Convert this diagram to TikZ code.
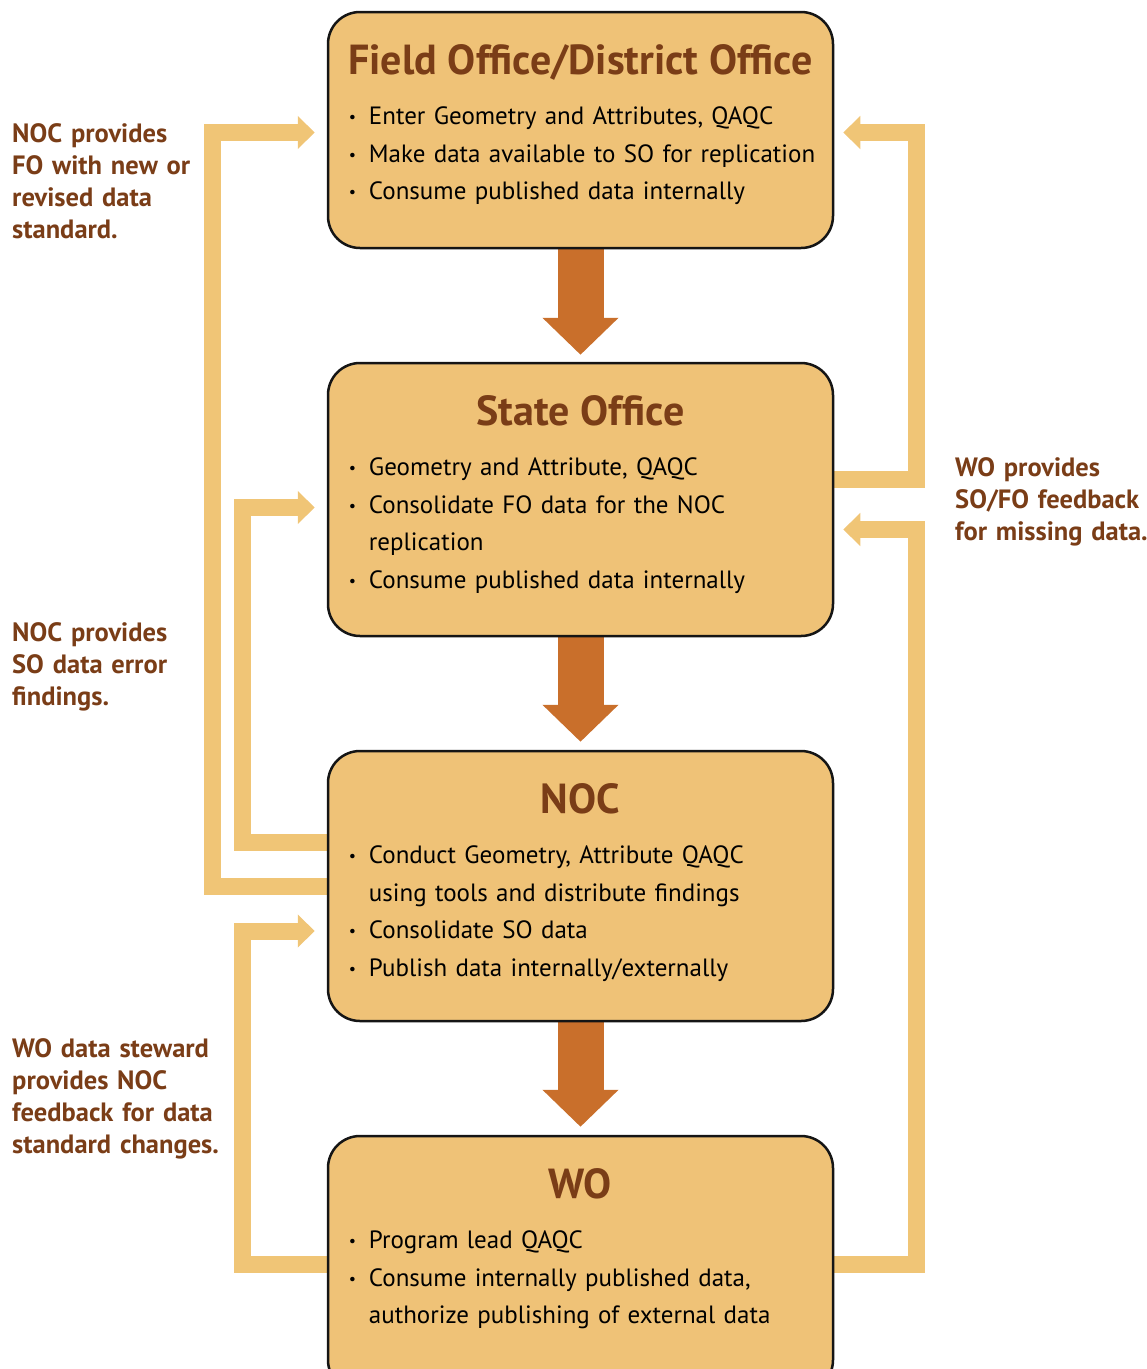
\documentclass[tikz,border=0pt]{standalone}
\usepackage{fontspec}
\setmainfont{PT Sans}
\usetikzlibrary{arrows.meta,positioning,calc,backgrounds}
\definecolor{colFill} {HTML}{EFC277}
\definecolor{colLine} {HTML}{151515}
\definecolor{colTitle}{HTML}{7A3D17}
\definecolor{colDown} {HTML}{C96F2B}
\definecolor{colBack} {HTML}{F0C576}
\tikzset{
  office/.style={
    draw=colLine, fill=colFill, line width=2.5pt,
    rounded corners=32pt, minimum width=505pt, inner sep=0pt
  },
  officetitle/.style={anchor=base, inner sep=0pt, text=colTitle,
    font=\bfseries\fontsize{42}{42}\selectfont},
  duties/.style={anchor=north west, inner sep=0pt, text width=520pt,
    align=left, font=\fontsize{25}{37.5}\selectfont},
  note/.style={anchor=north west, inner sep=0pt, text width=260pt,
    align=left, text=colTitle, font=\bfseries\fontsize{26.5}{32}\selectfont},
  downarr/.style={
    -{Triangle[width=74pt,length=37pt]},
    line width=46pt, draw=colDown
  },
  backarr/.style={
    -{Triangle[width=32pt,length=17pt]},
    line width=17pt, draw=colBack, line join=miter
  }
}
\newcommand{\duty}[1]{%
  \noindent\makebox[20pt][l]{\raisebox{2pt}{\fontsize{16}{16}\selectfont\textbullet}}\strut#1\par
}
\newcommand{\dutymore}[1]{%
  \noindent\hspace*{20pt}\strut#1\par
}

\begin{document}
\begin{tikzpicture}[x=1pt,y=-1pt]
    \useasboundingbox (0,0) rectangle (1147,1369);

    % the four offices
    \node[office, minimum height=236pt] (fo)  at (580.5,130)   {};
    \node[office, minimum height=273pt] (so)  at (580.5,499.5) {};
    \node[office, minimum height=270pt] (noc) at (580.5,886)   {};
    \node[office, minimum height=256pt] (wo)  at (580.5,1264)  {};

    \node[officetitle] (fotitle)  at ([yshift=-64pt]fo.north)  {Field Office/District Office};
    \node[officetitle] (sotitle)  at ([yshift=-64pt]so.north)  {State Office};
    \node[officetitle] (noctitle) at ([yshift=-64pt]noc.north) {NOC};
    \node[officetitle] (wotitle)  at ([yshift=-64pt]wo.north)  {WO};

    \node[duties] (folist) at ([xshift=22pt,yshift=-87.5pt]fo.north west) {%
      \duty{Enter Geometry and Attributes, QAQC}%
      \duty{Make data available to SO for replication}%
      \duty{Consume published data internally}};
    \node[duties] (solist) at ([xshift=22pt,yshift=-87.5pt]so.north west) {%
      \duty{Geometry and Attribute, QAQC}%
      \duty{Consolidate FO data for the NOC}%
      \dutymore{replication}%
      \duty{Consume published data internally}};
    \node[duties] (noclist) at ([xshift=22pt,yshift=-87.5pt]noc.north west) {%
      \duty{Conduct Geometry, Attribute QAQC}%
      \dutymore{using tools and distribute findings}%
      \duty{Consolidate SO data}%
      \duty{Publish data internally/externally}};
    \node[duties] (wolist) at ([xshift=22pt,yshift=-87.5pt]wo.north west) {%
      \duty{Program lead QAQC}%
      \duty{Consume internally published data,}%
      \dutymore{authorize publishing of external data}};

    % feedback notes
    \node[note] (fonote)  at (12,119.6)   {\strut NOC provides\\FO with new or\\revised data\\standard.};
    \node[note] (sonote)  at (12,618.6)   {\strut NOC provides\\SO data error\\findings.};
    \node[note] (nocnote) at (12,1034.6)  {\strut WO data steward\\provides NOC\\feedback for data\\standard changes.};
    \node[note] (wonote)  at (955,453.6)  {\strut WO provides\\SO/FO feedback\\for missing data.};

    \begin{pgfonlayer}{background}
      \draw[downarr] (fo.south)  -- ([yshift=7pt]so.north);
      \draw[downarr] (so.south)  -- ([yshift=8pt]noc.north);
      \draw[downarr] (noc.south) -- ([yshift=8pt]wo.north);

      \draw[backarr] (noc.west) -- ++(-114.5,0) |- ([xshift=-12pt,yshift=-2.5pt]fo.west);
      \draw[backarr] ([yshift=44pt]noc.west) -- ++(-84.5,0) |- ([xshift=-12pt,yshift=-8pt]so.west);
      \draw[backarr] (wo.west) -- ++(-84.5,0) |- ([xshift=-12pt,yshift=-45pt]noc.west);
      \draw[backarr] ([yshift=20pt]so.east) -- ++(82,0) |- ([xshift=9pt,yshift=-2.5pt]fo.east);
      \draw[backarr] (wo.east) -- ++(82,0) |- ([xshift=9pt,yshift=-30pt]so.east);
    \end{pgfonlayer}
\end{tikzpicture}
\end{document}
